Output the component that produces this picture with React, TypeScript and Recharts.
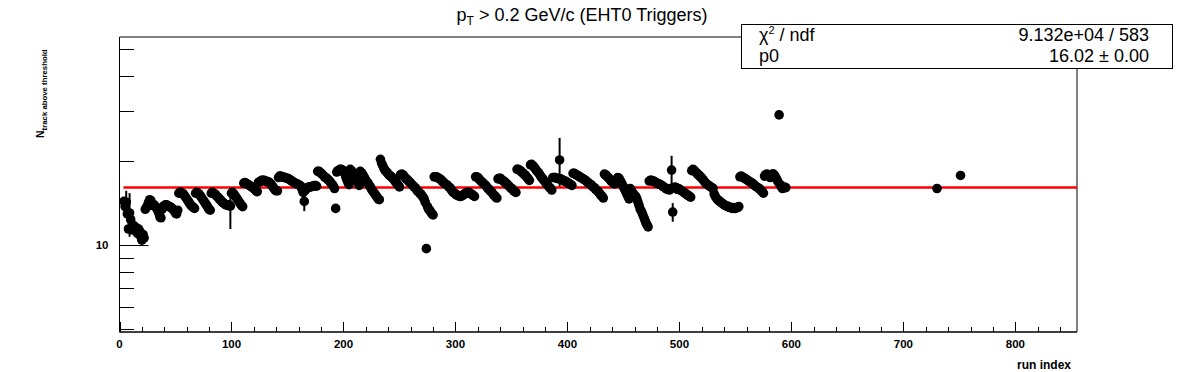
import React from 'react';
import { ComposedChart, Scatter, XAxis, YAxis, ErrorBar, ReferenceLine, ReferenceArea } from 'recharts';

const FONT = "'Liberation Sans', Arial, Helvetica, sans-serif";

// ---- data: N_track above threshold per run index ----
const blockA_start = 4; // runs 4..99
const blockA = [
  14.3, 13.7, 14.2, 12.9, 11.4, 13.0, 12.3, 11.6, 11.3, 11.7, 11.3, 11.5, 11.0, 11.4, 11.2, 10.7, 10.4, 10.9, 10.6,
  13.4, 13.6, 13.8, 14.2, 14.5, 14.4, 14.0, 13.8,
  13.9, 13.7, 13.6, 13.3, 13.0, 12.6, 12.5, 13.4, 13.7, 13.8, 13.9, 13.9, 13.8, 13.7, 13.7, 13.6, 13.5, 13.4, 13.2, 13.0, 12.9, 13.3,
  15.3, 15.4, 15.4, 15.3, 15.2, 15.0, 14.8, 14.6, 14.4, 14.2, 14.0, 13.8, 13.7, 13.6, 13.5,
  15.3, 15.4, 15.3, 15.2, 15.0, 14.8, 14.6, 14.4, 14.2, 14.0, 13.8, 13.6, 13.4, 13.3,
  15.3, 15.4, 15.3, 15.2, 15.1, 14.9, 14.8, 14.6, 14.5, 14.3, 14.2, 14.1, 14.0, 13.9, 13.9, 13.8, 13.9,
  13.75,
];
const blockB_start = 100; // runs 100..199
const blockB = [
  15.3, 15.4, 15.2, 15.0, 14.8, 14.6, 14.4, 14.2, 14.0, 13.8, 13.7,
  16.6, 16.7, 16.6, 16.5, 16.4, 16.3, 16.2, 16.1, 16.0, 15.9, 15.8, 15.6, 15.5,
  16.7, 16.8, 16.9, 17.0, 17.0, 17.0, 16.9, 16.9, 16.8, 16.8, 16.7, 16.5, 16.3, 16.1, 15.9, 15.7, 15.6, 15.6,
  17.4, 17.6, 17.6, 17.5, 17.5, 17.4, 17.4, 17.3, 17.3, 17.2, 17.1, 17.0, 16.9, 16.8, 16.7, 16.6, 16.5, 16.5, 16.4, 16.3, 16.2,
  15.8, 15.4, 14.3, 15.7, 15.9, 16.0, 16.1, 16.1, 16.1, 16.2, 16.2, 16.3, 16.3, 16.2,
  18.3, 18.3, 18.2, 18.0, 17.9, 17.7, 17.5, 17.4, 17.3, 17.1, 17.0, 16.8, 16.6, 16.4, 16.2, 15.9,
  13.5,
  18.2, 18.4, 18.5, 18.6, 18.6, 18.5,
];
const blockC_start = 200; // runs 200..299
const blockC = [
  18.4, 18.0, 17.5, 17.1, 16.7, 16.4,
  18.6, 18.4, 18.2, 17.9, 17.6, 17.3, 17.0, 16.7, 16.3,
  18.3, 18.1, 17.9, 17.6, 17.3, 17.0, 16.8, 16.6, 16.3, 16.1, 15.8, 15.6, 15.4, 15.2, 15.0, 14.8, 14.6, 14.5,
  20.2, 19.6, 19.2, 18.8, 18.5, 18.3, 18.1, 17.9, 17.7, 17.6, 17.5, 17.3, 17.1, 16.9, 16.7, 16.5, 16.3, 16.1,
  17.8, 17.9, 17.8, 17.6, 17.4, 17.2, 17.1, 16.9, 16.8, 16.6, 16.4, 16.3, 16.1, 16.0, 15.8, 15.6, 15.5, 15.3, 15.2, 15.0, 14.8, 14.6, 14.2,
  9.7,
  13.7, 13.4, 13.3, 13.1, 12.9, 12.8,
  17.5, 17.5, 17.5, 17.4, 17.3, 17.2, 17.1, 16.9, 16.8, 16.6, 16.5, 16.4, 16.3, 16.1, 16.0, 15.8, 15.6, 15.4, 15.3,
];
const blockD_start = 300; // runs 300..399
const blockD = [
  15.2, 15.1, 15.0, 15.0, 14.9, 14.9, 15.0, 15.1, 15.2, 15.3, 15.3, 15.4, 15.4, 15.3, 15.2, 15.1, 15.0, 14.9,
  17.5, 17.5, 17.4, 17.2, 17.0, 16.9, 16.7, 16.6, 16.4, 16.3, 16.1, 15.9, 15.8, 15.6, 15.5, 15.3, 15.1, 15.0, 14.8, 14.7,
  17.2, 17.3, 17.3, 17.1, 17.0, 16.9, 16.8, 16.6, 16.5, 16.3, 16.2, 16.0, 15.9, 15.8, 15.6, 15.5, 15.4,
  18.6, 18.6, 18.5, 18.4, 18.2, 18.1, 17.9, 17.8, 17.6, 17.4, 17.2, 17.0,
  19.3, 19.4, 19.2, 19.0, 18.8, 18.5, 18.3, 18.1, 17.9, 17.6, 17.4, 17.2, 17.0, 16.8, 16.6, 16.4, 16.2, 16.0, 15.9, 15.7,
  17.4, 17.4, 17.4, 17.3, 17.3, 17.2, 20.1, 17.2, 17.1, 17.0, 16.9, 16.9, 16.8,
];
const blockE_start = 400; // runs 400..499
const blockE = [
  16.7, 16.6, 16.5, 16.4, 16.3,
  18.0, 18.0, 17.9, 17.8, 17.7, 17.6, 17.5, 17.4, 17.3, 17.2, 17.1, 17.0, 16.9, 16.7, 16.6, 16.5, 16.4, 16.2, 16.1, 16.0, 15.8, 15.7, 15.6, 15.4, 15.2, 15.0, 14.9, 14.7,
  17.9, 17.8, 17.6, 17.5, 17.3, 17.1, 16.9, 16.8, 16.6, 16.5, 16.7, 17.1, 17.4, 17.3, 17.0, 16.7, 16.4, 16.1, 15.8, 15.5, 15.2, 14.9, 14.6,
  15.9, 15.7, 15.4, 15.2, 15.0, 14.9, 14.6, 14.2, 13.8, 13.4, 13.2, 12.9, 12.6, 12.3, 12.0, 11.8, 11.6,
  16.9, 17.0, 17.0, 16.9, 16.9, 16.8, 16.7, 16.6, 16.5, 16.5, 16.4, 16.3, 16.2, 16.1, 16.0, 15.9, 15.8, 15.8, 15.7, 15.9,
  18.5, 13.1,
  16.0, 16.1, 16.0, 15.8, 15.9,
];
const blockF_start = 500; // runs 500..595
const blockF = [
  15.8, 15.7, 15.6, 15.5, 15.4, 15.3, 15.2, 15.1, 15.0, 14.9, 14.8,
  18.4, 18.6, 18.5, 18.3, 18.1, 17.9, 17.8, 17.6, 17.5, 17.3, 17.1, 16.9, 16.7, 16.5, 16.4, 16.3, 16.2, 16.1, 16.0, 15.9,
  15.2, 14.9, 14.7, 14.5, 14.4, 14.3, 14.2, 14.1, 14.0, 13.9, 13.8, 13.8, 13.7, 13.7, 13.6, 13.6, 13.5, 13.6, 13.5, 13.5, 13.6, 13.6, 13.7,
  17.5, 17.6, 17.5, 17.4, 17.3, 17.2, 17.1, 17.0, 16.9, 16.8, 16.7, 16.6, 16.5, 16.3, 16.2, 16.1, 16.0, 15.9, 15.8, 15.6, 15.5, 15.3,
  17.6, 17.8, 17.9, 17.8, 17.6, 17.4, 17.7, 17.9, 17.9, 17.7, 17.4, 17.1, 16.8, 29.1, 16.4, 16.1, 15.9, 16.0, 16.1, 16.0,
];
const lateRuns = [730, 751];
const lateValues = [15.9, 17.7];

const errorRuns = [6, 9, 99, 165, 393, 493, 494, 730];
const errorSizes = [1.4, 2.3, 2.35, 1.1, 4.0, 2.3, 1.0, 0.5];

// fit result
const FIT_P0 = 16.02;
const FIT_RANGE = [3.5, 855];

// axes
const X_DOMAIN = [0, 855];
const Y_DOMAIN = [4.89, 55.2];
const X_TICKS = [0, 20, 40, 60, 80, 100, 120, 140, 160, 180, 200, 220, 240, 260, 280, 300, 320, 340, 360, 380, 400, 420, 440, 460, 480, 500, 520, 540, 560, 580, 600, 620, 640, 660, 680, 700, 720, 740, 760, 780, 800, 820, 840];
const X_LABELLED = [0, 100, 200, 300, 400, 500, 600, 700, 800];
const Y_TICKS = [5, 6, 7, 8, 9, 10, 20, 30, 40, 50];
const Y_LABELLED = [10];

type Pt = { run: number; n: number; err: number };

function buildBlock(start: number, vals: number[]): Pt[] {
  return vals.map((v, i) => ({ run: start + i, n: v, err: 0 }));
}

const points: Pt[] = [
  ...buildBlock(blockA_start, blockA),
  ...buildBlock(blockB_start, blockB),
  ...buildBlock(blockC_start, blockC),
  ...buildBlock(blockD_start, blockD),
  ...buildBlock(blockE_start, blockE),
  ...buildBlock(blockF_start, blockF),
  ...lateRuns.map((r, i) => ({ run: r, n: lateValues[i], err: 0 })),
].map((p) => {
  const k = errorRuns.indexOf(p.run);
  return k >= 0 ? { ...p, err: errorSizes[k] } : p;
});

const Y_TICK_MARGIN = 11;

const YTick = (props: any) => {
  const { x, y, payload } = props;
  const v = payload.value;
  const ax = x + Y_TICK_MARGIN;
  const yy = Math.round(y) + 0.5;
  const major = Y_LABELLED.includes(v);
  return (
    <g>
      <line x1={ax} x2={ax + (major ? 29 : 14.5)} y1={yy} y2={yy} stroke="#000" strokeWidth={1} />
      {major && (
        <text x={x} y={y + 4} textAnchor="end" fontSize={11.5} fontWeight="bold" fontFamily={FONT} fill="#000">
          {v}
        </text>
      )}
    </g>
  );
};

const XTick = (props: any) => {
  const { x, y, payload } = props;
  const v = payload.value;
  const major = X_LABELLED.includes(v);
  const xx = Math.round(x) + 0.5;
  return (
    <g>
      <line x1={xx} x2={xx} y1={y} y2={y - (major ? 10 : 5)} stroke="#000" strokeWidth={1} />
      {major && (
        <text x={x} y={y + 16} textAnchor="middle" fontSize={11.5} fontWeight="bold" fontFamily={FONT} fill="#000">
          {v}
        </text>
      )}
    </g>
  );
};

const Marker = (props: any) => {
  const { cx, cy } = props;
  if (cx == null || cy == null) return null;
  return <circle cx={cx} cy={cy} r={4.8} fill="#000" />;
};

export default function App() {
  return (
    <div style={{ position: 'absolute', left: 0, top: 0, width: 1196, height: 372, background: '#fff' }}>
      <ComposedChart
        width={1196}
        height={372}
        margin={{ top: 37, right: 119, bottom: 10, left: 59.5 }}
      >
        <XAxis
          type="number"
          dataKey="run"
          domain={X_DOMAIN}
          ticks={X_TICKS}
          interval={0}
          allowDataOverflow
          height={30}
          tickSize={0}
          tickMargin={0}
          tick={<XTick />}
          axisLine={{ stroke: '#000', strokeWidth: 1 }}
          tickLine={false}
        />
        <YAxis
          type="number"
          dataKey="n"
          scale="log"
          domain={Y_DOMAIN}
          ticks={Y_TICKS}
          interval={0}
          allowDataOverflow
          width={60}
          tickSize={0}
          tickMargin={Y_TICK_MARGIN}
          tick={<YTick />}
          axisLine={{ stroke: '#000', strokeWidth: 1 }}
          tickLine={false}
        />
        <ReferenceArea
          x1={X_DOMAIN[0]}
          x2={X_DOMAIN[1]}
          y1={Y_DOMAIN[0]}
          y2={Y_DOMAIN[1]}
          fill="none"
          fillOpacity={0}
          stroke="#000"
          strokeWidth={1}
          ifOverflow="visible"
        />
        <Scatter data={points} dataKey="n" shape={<Marker />} isAnimationActive={false}>
          <ErrorBar dataKey="err" direction="y" width={0} stroke="#000" strokeWidth={2} isAnimationActive={false} />
        </Scatter>
        <ReferenceLine
          segment={[
            { x: FIT_RANGE[0], y: FIT_P0 },
            { x: FIT_RANGE[1], y: FIT_P0 },
          ]}
          stroke="#ff0000"
          strokeWidth={2.5}
          ifOverflow="visible"
        />
      </ComposedChart>
      <svg
        width={1196}
        height={372}
        style={{ position: 'absolute', left: 0, top: 0, pointerEvents: 'none' }}
        fontFamily={FONT}
      >
        <text x={582} y={21} textAnchor="middle" fontSize={18} fill="#000">
          p<tspan fontSize={12} dy={4}>T</tspan>
          <tspan dy={-4}> &gt; 0.2 GeV/c (EHT0 Triggers)</tspan>
        </text>
        <rect x={741.5} y={24.5} width={431} height={44} fill="#fff" stroke="#000" strokeWidth={1} />
        <text x={759} y={41} fontSize={18} fill="#000">
          χ<tspan fontSize={11} dy={-7}>2</tspan>
          <tspan dy={7}> / ndf</tspan>
        </text>
        <text x={1149} y={41} fontSize={18} textAnchor="end" fill="#000">9.132e+04 / 583</text>
        <text x={759} y={62} fontSize={18} fill="#000">p0</text>
        <text x={1149} y={62} fontSize={18} textAnchor="end" fill="#000">16.02 ± 0.00</text>
        <text transform="translate(43.5,138) rotate(-90)" fontSize={10.5} fontWeight="bold" fill="#000">
          N<tspan fontSize={7.8} dy={3}>track above threshold</tspan>
        </text>
        <text x={1071} y={369} fontSize={12} fontWeight="bold" textAnchor="end" fill="#000">run index</text>
      </svg>
    </div>
  );
}
